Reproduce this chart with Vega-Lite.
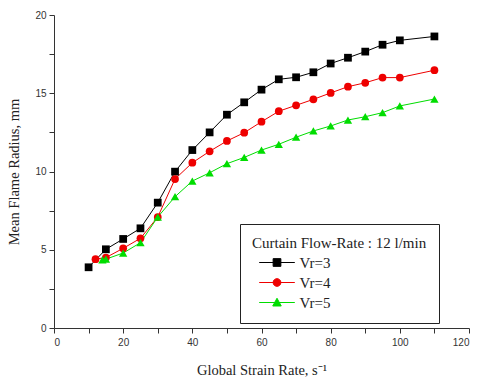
{
  "$schema": "https://vega.github.io/schema/vega-lite/v6.json",
  "width": 415,
  "height": 313,
  "autosize": {"type": "none"},
  "padding": {"left": 54, "top": 15, "right": 11, "bottom": 55},
  "background": "white",
  "config": {
    "view": {"stroke": null},
    "axis": {"grid": false, "domainColor": "#333333", "tickColor": "#333333", "labelFont": "Liberation Sans", "labelFontSize": 10, "labelColor": "#333333", "titleFont": "Liberation Serif", "titleFontSize": 14.5, "titleFontWeight": "normal", "titleColor": "#222222", "tickSize": 5},
    "legend": {"orient": "none", "legendX": 186, "legendY": 209, "strokeColor": "#222222", "fillColor": "white", "padding": 12, "titleFont": "Liberation Serif", "titleFontSize": 15, "titleFontWeight": "normal", "titleColor": "#222222", "labelFont": "Liberation Serif", "labelFontSize": 15, "labelColor": "#222222", "symbolSize": 60, "symbolOffset": 17.5, "labelOffset": 15, "rowPadding": 4, "titlePadding": 4, "symbolStrokeWidth": 1}
  },
  "data": {"values": [
    {"x": 10, "y": 3.88, "series": "Vr=3"},
    {"x": 15, "y": 5.03, "series": "Vr=3"},
    {"x": 20, "y": 5.69, "series": "Vr=3"},
    {"x": 25, "y": 6.37, "series": "Vr=3"},
    {"x": 30, "y": 8.01, "series": "Vr=3"},
    {"x": 35, "y": 9.99, "series": "Vr=3"},
    {"x": 40, "y": 11.37, "series": "Vr=3"},
    {"x": 45, "y": 12.5, "series": "Vr=3"},
    {"x": 50, "y": 13.63, "series": "Vr=3"},
    {"x": 55, "y": 14.42, "series": "Vr=3"},
    {"x": 60, "y": 15.23, "series": "Vr=3"},
    {"x": 65, "y": 15.89, "series": "Vr=3"},
    {"x": 70, "y": 16.02, "series": "Vr=3"},
    {"x": 75, "y": 16.34, "series": "Vr=3"},
    {"x": 80, "y": 16.9, "series": "Vr=3"},
    {"x": 85, "y": 17.27, "series": "Vr=3"},
    {"x": 90, "y": 17.66, "series": "Vr=3"},
    {"x": 95, "y": 18.1, "series": "Vr=3"},
    {"x": 100, "y": 18.38, "series": "Vr=3"},
    {"x": 110, "y": 18.63, "series": "Vr=3"},
    {"x": 12, "y": 4.4, "series": "Vr=4"},
    {"x": 15, "y": 4.5, "series": "Vr=4"},
    {"x": 20, "y": 5.09, "series": "Vr=4"},
    {"x": 25, "y": 5.73, "series": "Vr=4"},
    {"x": 30, "y": 7.09, "series": "Vr=4"},
    {"x": 35, "y": 9.52, "series": "Vr=4"},
    {"x": 40, "y": 10.56, "series": "Vr=4"},
    {"x": 45, "y": 11.29, "series": "Vr=4"},
    {"x": 50, "y": 11.95, "series": "Vr=4"},
    {"x": 55, "y": 12.48, "series": "Vr=4"},
    {"x": 60, "y": 13.18, "series": "Vr=4"},
    {"x": 65, "y": 13.85, "series": "Vr=4"},
    {"x": 70, "y": 14.23, "series": "Vr=4"},
    {"x": 75, "y": 14.61, "series": "Vr=4"},
    {"x": 80, "y": 15.02, "series": "Vr=4"},
    {"x": 85, "y": 15.42, "series": "Vr=4"},
    {"x": 90, "y": 15.67, "series": "Vr=4"},
    {"x": 95, "y": 16.0, "series": "Vr=4"},
    {"x": 100, "y": 16.0, "series": "Vr=4"},
    {"x": 110, "y": 16.47, "series": "Vr=4"},
    {"x": 14, "y": 4.35, "series": "Vr=5"},
    {"x": 15, "y": 4.4, "series": "Vr=5"},
    {"x": 20, "y": 4.79, "series": "Vr=5"},
    {"x": 25, "y": 5.45, "series": "Vr=5"},
    {"x": 30, "y": 7.09, "series": "Vr=5"},
    {"x": 35, "y": 8.39, "series": "Vr=5"},
    {"x": 40, "y": 9.39, "series": "Vr=5"},
    {"x": 45, "y": 9.92, "series": "Vr=5"},
    {"x": 50, "y": 10.5, "series": "Vr=5"},
    {"x": 55, "y": 10.9, "series": "Vr=5"},
    {"x": 60, "y": 11.37, "series": "Vr=5"},
    {"x": 65, "y": 11.74, "series": "Vr=5"},
    {"x": 70, "y": 12.19, "series": "Vr=5"},
    {"x": 75, "y": 12.59, "series": "Vr=5"},
    {"x": 80, "y": 12.91, "series": "Vr=5"},
    {"x": 85, "y": 13.29, "series": "Vr=5"},
    {"x": 90, "y": 13.5, "series": "Vr=5"},
    {"x": 95, "y": 13.76, "series": "Vr=5"},
    {"x": 100, "y": 14.19, "series": "Vr=5"},
    {"x": 110, "y": 14.63, "series": "Vr=5"}
  ]},
  "encoding": {
    "x": {"field": "x", "type": "quantitative", "scale": {"domain": [0, 120], "nice": false},
      "axis": {"values": [0, 10, 20, 30, 40, 50, 60, 70, 80, 90, 100, 110, 120], "labelExpr": "datum.value % 20 == 0 ? datum.label : ''", "title": "Global Strain Rate, s⁻¹", "titlePadding": 16, "labelPadding": 4}},
    "y": {"field": "y", "type": "quantitative", "scale": {"domain": [0, 20], "nice": false},
      "axis": {"values": [0, 2.5, 5, 7.5, 10, 12.5, 15, 17.5, 20], "labelExpr": "datum.value % 5 == 0 ? datum.label : ''", "title": "Mean Flame Radius, mm", "titlePadding": 13, "labelPadding": 3}}
  },
  "layer": [
    {
      "mark": {"type": "point", "filled": true, "opacity": 1, "size": 0, "strokeWidth": 1},
      "encoding": {
        "fill": {"field": "series", "type": "nominal", "scale": {"domain": ["Vr=3", "Vr=4", "Vr=5"], "range": ["#000000", "#ee0000", "#00dd00"]},
          "legend": {"title": "Curtain Flow-Rate : 12 l/min"}},
        "stroke": {"field": "series", "type": "nominal", "scale": {"domain": ["Vr=3", "Vr=4", "Vr=5"], "range": ["#000000", "#ee0000", "#00dd00"]},
          "legend": {"title": "Curtain Flow-Rate : 12 l/min"}},
        "shape": {"field": "series", "type": "nominal", "scale": {"domain": ["Vr=3", "Vr=4", "Vr=5"], "range": [
          "M-4.6,0H4.6M-1,-1H1V1H-1Z",
          "M-4.6,0H4.6M-1,0A1,1,0,1,0,1,0A1,1,0,1,0,-1,0Z",
          "M-4.6,0H4.6M0,-1.1L1.1,0.9H-1.1Z"]},
          "legend": {"title": "Curtain Flow-Rate : 12 l/min"}}
      }
    },
    {
      "mark": {"type": "line", "strokeWidth": 1},
      "encoding": {
        "color": {"field": "series", "type": "nominal", "scale": {"domain": ["Vr=3", "Vr=4", "Vr=5"], "range": ["#000000", "#ee0000", "#00dd00"]}, "legend": null}
      }
    },
    {
      "transform": [{"filter": "datum.series == 'Vr=3'"}],
      "mark": {"type": "point", "filled": true, "opacity": 1, "size": 60, "shape": "square", "color": "#000000"}
    },
    {
      "transform": [{"filter": "datum.series == 'Vr=4'"}],
      "mark": {"type": "point", "filled": true, "opacity": 1, "size": 60, "shape": "circle", "color": "#ee0000"}
    },
    {
      "transform": [{"filter": "datum.series == 'Vr=5'"}],
      "mark": {"type": "point", "filled": true, "opacity": 1, "size": 70, "shape": "triangle-up", "color": "#00dd00"}
    }
  ]
}
